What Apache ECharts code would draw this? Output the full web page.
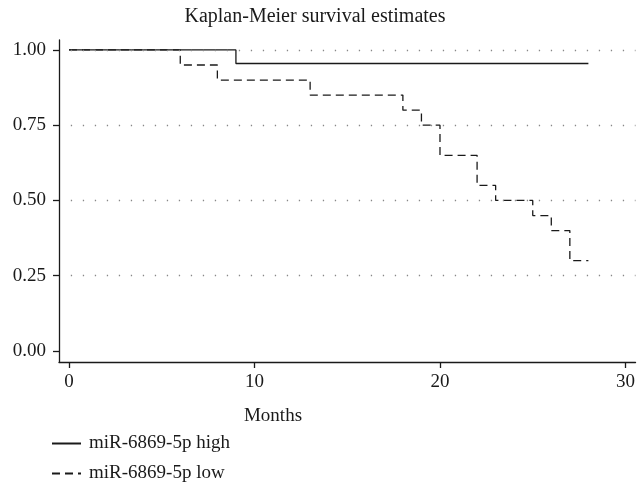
<!DOCTYPE html>
<html>
<head>
<meta charset="utf-8">
<script src="https://cdn.jsdelivr.net/npm/echarts@6/dist/echarts.min.js"></script>
<style>
  html, body { margin: 0; padding: 0; background: #fff; }
  #main { width: 638px; height: 483px; }
</style>
</head>
<body>
<div id="main"></div>
<script>
// survival step data
var highMonths = [0, 9, 28];
var highSurv = [1.0, 0.955, 0.955];
var lowMonths = [0, 6, 8, 13, 18, 19, 20, 22, 23, 25, 26, 27, 28];
var lowSurv = [1.0, 0.95, 0.90, 0.85, 0.80, 0.75, 0.65, 0.55, 0.50, 0.45, 0.40, 0.30, 0.30];
var xTicks = [0, 10, 20, 30];
var yTicks = [0, 0.25, 0.5, 0.75, 1];
var gridLines = [0.25, 0.5, 0.75, 1];

var FONT = 'Liberation Serif';
var INK = '#1a1a1a';
var X_MIN = -0.537, X_MAX = 30.54;

function pairs(xs, ys) {
    var out = [];
    for (var i = 0; i < xs.length; i++) out.push([xs[i], ys[i]]);
    return out;
}

var chart = echarts.init(document.getElementById('main'));
chart.setOption({
    animation: false,
    backgroundColor: '#fff',
    textStyle: { fontFamily: FONT },
    title: [
        { text: 'Kaplan-Meier survival estimates', left: 310, top: 2, textAlign: 'center',
          textStyle: { fontFamily: FONT, fontWeight: 'normal', fontSize: 20, color: INK } },
        { text: 'Months', left: 268, top: 402, textAlign: 'center',
          textStyle: { fontFamily: FONT, fontWeight: 'normal', fontSize: 19, color: INK } }
    ],
    legend: {
        orient: 'vertical',
        left: 46, top: 429, height: 60,
        itemWidth: 29, itemHeight: 10, itemGap: 11,
        itemStyle: { opacity: 0 },
        textStyle: { fontFamily: FONT, fontSize: 19, color: INK, padding: [0, 0, 0, 3] },
        data: ['miR-6869-5p high', 'miR-6869-5p low']
    },
    grid: { left: 59, right: 0, top: 40, bottom: 121, containLabel: false },
    xAxis: {
        type: 'value',
        min: X_MIN, max: X_MAX,
        axisLine: { onZero: false, lineStyle: { color: INK, width: 1.3 } },
        axisTick: { show: true, length: 6, lineStyle: { color: INK, width: 1.3 }, customValues: xTicks },
        axisLabel: { customValues: xTicks, color: INK, fontSize: 19, fontFamily: FONT, margin: 11 },
        splitLine: { show: false }
    },
    yAxis: {
        type: 'value',
        min: -0.0365, max: 1.033,
        axisLine: { show: true, onZero: false, lineStyle: { color: INK, width: 1.3 } },
        axisTick: { show: true, length: 6, lineStyle: { color: INK, width: 1.3 }, customValues: yTicks },
        axisLabel: { customValues: yTicks, color: INK, fontSize: 19, fontFamily: FONT, margin: 13,
                     formatter: function (v) { return v.toFixed(2); } },
        splitLine: { show: false }
    },
    series: [
        {
            name: 'miR-6869-5p high',
            type: 'line', step: 'end', showSymbol: false, symbol: 'none',
            data: pairs(highMonths, highSurv),
            lineStyle: { color: INK, width: 1.3, type: 'solid' },
            itemStyle: { color: INK },
            z: 3,
            markLine: {
                silent: true, symbol: 'none', label: { show: false },
                lineStyle: { color: '#888', width: 1.3, type: [1.3, 10.7] },
                data: gridLines.map(function (v) {
                    return [{ coord: [0.1, v] }, { coord: [X_MAX, v] }];
                })
            }
        },
        {
            name: 'miR-6869-5p low',
            type: 'line', step: 'end', showSymbol: false, symbol: 'none',
            data: pairs(lowMonths, lowSurv),
            lineStyle: { color: INK, width: 1.3, type: [8, 5] },
            itemStyle: { color: INK },
            z: 3
        }
    ]
});
</script>
</body>
</html>
